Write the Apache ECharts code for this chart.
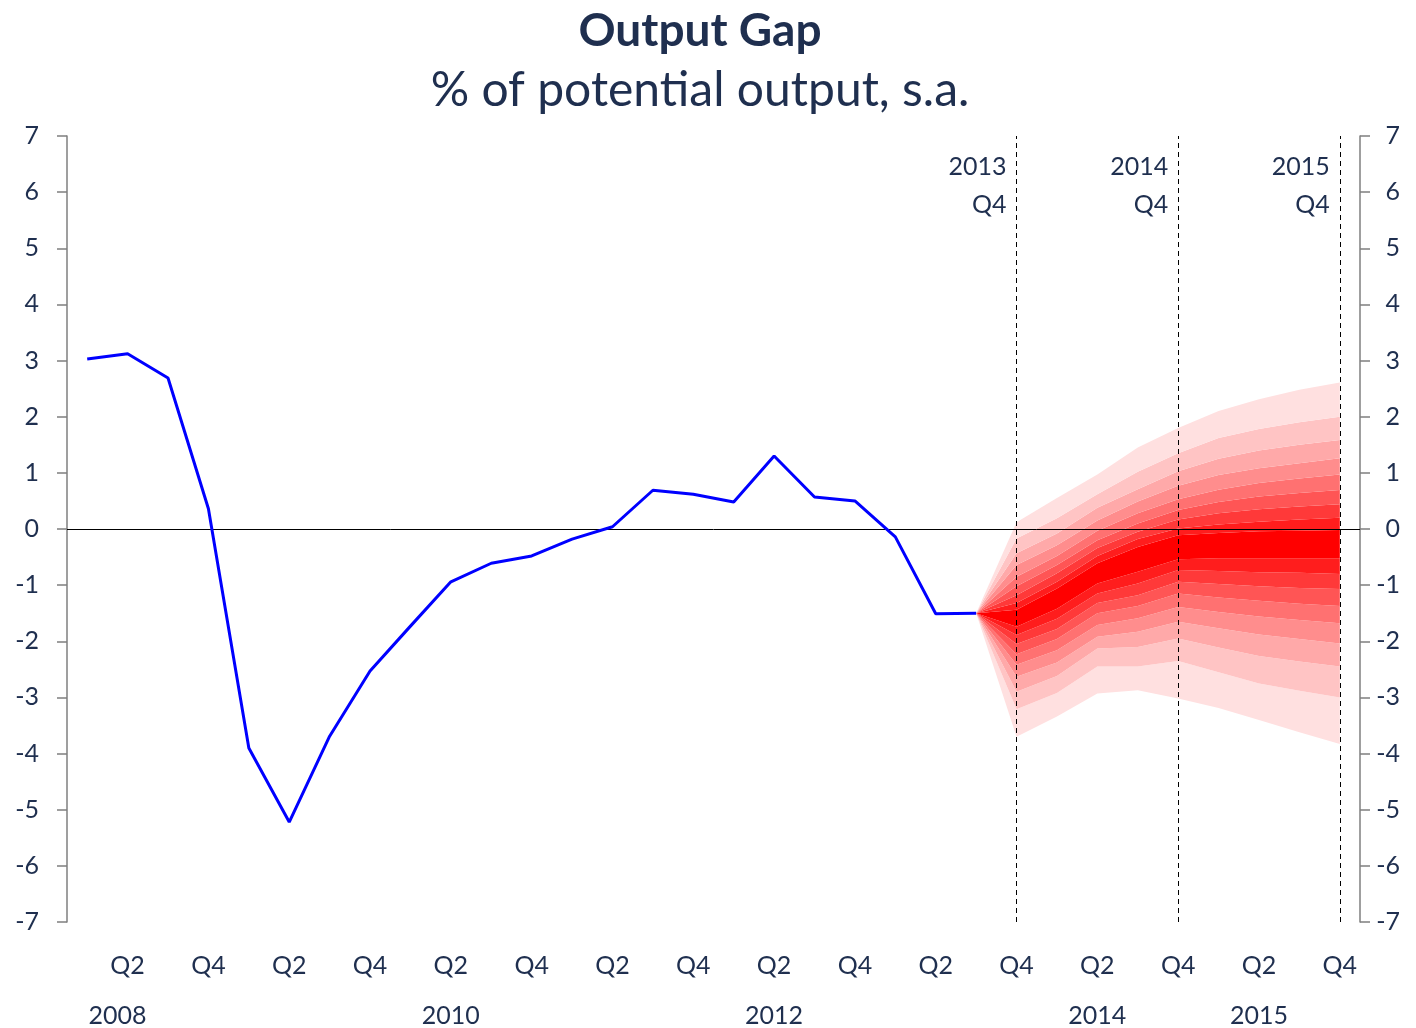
<!DOCTYPE html>
<html>
<head>
<meta charset="utf-8">
<title>Output Gap</title>
<script src="https://cdn.jsdelivr.net/npm/echarts@6/dist/echarts.min.js"></script>
<style>
  html, body { margin: 0; padding: 0; background: #fff; }
  #chart { width: 1416px; height: 1028px; }
</style>
</head>
<body>
<div id="chart"></div>
<script>
// quarters 2008Q1 .. 2015Q4
const quarters = [
  '2008Q1','2008Q2','2008Q3','2008Q4','2009Q1','2009Q2','2009Q3','2009Q4',
  '2010Q1','2010Q2','2010Q3','2010Q4','2011Q1','2011Q2','2011Q3','2011Q4',
  '2012Q1','2012Q2','2012Q3','2012Q4','2013Q1','2013Q2','2013Q3','2013Q4',
  '2014Q1','2014Q2','2014Q3','2014Q4','2015Q1','2015Q2','2015Q3','2015Q4'
]
// outturn, 2008Q1 .. 2013Q3
const outputGap = [
  3.03, 3.12, 2.69, 0.36, -3.90, -5.22, -3.69, -2.53,
  -1.73, -0.94, -0.61, -0.48, -0.18, 0.04, 0.69, 0.62,
  0.48, 1.30, 0.57, 0.50, -0.14, -1.51, -1.50
]
// fan chart boundaries, 2013Q3 .. 2015Q4 (bottom to top)
const fanStart = 22
const fanL8 = [-1.5, -3.70, -3.34, -2.93, -2.87, -3.02, -3.19, -3.40, -3.62, -3.83]
const fanL7 = [-1.5, -3.21, -2.92, -2.45, -2.45, -2.35, -2.55, -2.75, -2.88, -3.00]
const fanL6 = [-1.5, -2.90, -2.62, -2.13, -2.10, -1.95, -2.11, -2.26, -2.36, -2.45]
const fanL5 = [-1.5, -2.63, -2.38, -1.92, -1.83, -1.65, -1.77, -1.88, -1.96, -2.04]
const fanL4 = [-1.5, -2.42, -2.16, -1.71, -1.59, -1.39, -1.48, -1.56, -1.62, -1.68]
const fanL3 = [-1.5, -2.23, -1.96, -1.50, -1.37, -1.15, -1.22, -1.28, -1.33, -1.37]
const fanL2 = [-1.5, -2.05, -1.78, -1.32, -1.18, -0.94, -0.98, -1.02, -1.05, -1.07]
const fanL1 = [-1.5, -1.89, -1.60, -1.15, -0.97, -0.73, -0.75, -0.77, -0.78, -0.80]
const fanCLo = [-1.5, -1.74, -1.42, -0.97, -0.76, -0.54, -0.52, -0.52, -0.52, -0.52]
const fanCHi = [-1.5, -1.44, -1.06, -0.61, -0.32, -0.11, -0.07, -0.04, -0.03, -0.02]
const fanU1 = [-1.5, -1.32, -0.94, -0.48, -0.18, 0.01, 0.08, 0.13, 0.17, 0.20]
const fanU2 = [-1.5, -1.18, -0.79, -0.34, -0.05, 0.17, 0.28, 0.35, 0.40, 0.44]
const fanU3 = [-1.5, -1.02, -0.64, -0.20, 0.10, 0.34, 0.48, 0.58, 0.64, 0.695]
const fanU4 = [-1.5, -0.85, -0.48, -0.03, 0.28, 0.53, 0.70, 0.82, 0.90, 0.97]
const fanU5 = [-1.5, -0.64, -0.29, 0.15, 0.49, 0.77, 0.96, 1.08, 1.17, 1.26]
const fanU6 = [-1.5, -0.43, -0.08, 0.38, 0.71, 1.03, 1.25, 1.40, 1.50, 1.585]
const fanU7 = [-1.5, -0.17, 0.19, 0.62, 1.02, 1.35, 1.62, 1.78, 1.90, 2.00]
const fanU8 = [-1.5, 0.12, 0.55, 0.97, 1.45, 1.80, 2.10, 2.31, 2.48, 2.61]
// shades, outermost band first
const fanColors = ['#ffe0e0', '#ffc4c4', '#ffa9a9', '#ff8d8d', '#ff7171', '#ff5555', '#ff3939', '#ff1d1d', '#ff0000']

// y axis ticks
const yTicks = [-7, -6, -5, -4, -3, -2, -1, 0, 1, 2, 3, 4, 5, 6, 7]
// year labels under the quarters
const yearIdx = [1, 9, 17, 25, 29]
const yearText = ['2008', '2010', '2012', '2014', '2015']
// dashed forecast markers
const markerIdx = [23, 27, 31]
const markerText = ['2013\nQ4', '2014\nQ4', '2015\nQ4']

const textColor = '#1f2f4f'
const fontFamily = 'Lato, "Open Sans", sans-serif'

const pad = (arr, start) => {
  const out = []
  for (let i = 0; i < quarters.length; i++) {
    const v = arr[i - start]
    out.push(i >= start && v !== undefined ? v : '-')
  }
  return out
}

// stacked bands: base + differences between successive boundaries
const bounds = [fanL8, fanL7, fanL6, fanL5, fanL4, fanL3, fanL2, fanL1, fanCLo,
  fanCHi, fanU1, fanU2, fanU3, fanU4, fanU5, fanU6, fanU7, fanU8]
const bandShade = [0, 1, 2, 3, 4, 5, 6, 7, 8, 7, 6, 5, 4, 3, 2, 1, 0]

const series = []
series.push({
  name: 'fanBase',
  type: 'line',
  stack: 'fan',
  stackStrategy: 'all',
  data: pad(fanL8, fanStart),
  symbol: 'none',
  lineStyle: { opacity: 0 },
  silent: true,
  z: 1
})
for (let b = 0; b < bandShade.length; b++) {
  const lo = bounds[b], hi = bounds[b + 1]
  const diff = hi.map((v, i) => +(v - lo[i]).toFixed(3))
  series.push({
    name: 'band' + b,
    type: 'line',
    stack: 'fan',
    stackStrategy: 'all',
    data: pad(diff, fanStart),
    symbol: 'none',
    lineStyle: { width: 0, opacity: 0 },
    areaStyle: { color: fanColors[bandShade[b]], opacity: 1 },
    silent: true,
    z: 1
  })
}

series.push({
  name: 'Output gap',
  type: 'line',
  data: pad(outputGap, 0),
  symbol: 'none',
  lineStyle: { color: '#0000ff', width: 3 },
  z: 5
})

// zero line and dashed vertical markers
series.push({
  name: 'lines',
  type: 'line',
  data: [],
  z: 6,
  markLine: {
    silent: true,
    symbol: 'none',
    label: { show: false },
    data: [
      { yAxis: 0, lineStyle: { color: '#000', width: 1, type: 'solid' } }
    ].concat(markerIdx.map(i => ({
      xAxis: quarters[i],
      lineStyle: { color: '#000', width: 1, type: [5, 4] }
    })))
  }
})

series.push({
  name: 'markers',
  type: 'scatter',
  symbolSize: 0,
  silent: true,
  itemStyle: { opacity: 1 },
  data: markerIdx.map((i, k) => ({ value: [quarters[i], 6.11], label: { formatter: markerText[k], color: textColor } })),
  label: {
    show: true,
    position: 'left',
    distance: 10,
    align: 'right',
    opacity: 1,
    color: textColor,
    fontSize: 25,
    lineHeight: 38,
    fontFamily: fontFamily
  },
  z: 7
})

const chart = echarts.init(document.getElementById('chart'))
const yAxisBase = {
  type: 'value',
  min: -7,
  max: 7,
  interval: 1,
  splitLine: { show: false },
  axisLine: { show: true, lineStyle: { color: '#7f7f7f', width: 1.5 } },
  axisTick: { show: true, length: 10, lineStyle: { color: '#7f7f7f', width: 1.5 } }
}
chart.setOption({
  animation: false,
  backgroundColor: '#fff',
  title: {
    text: 'Output Gap',
    subtext: '% of potential output, s.a.',
    left: 695,
    textAlign: 'center',
    top: 3,
    itemGap: 13,
    textStyle: { color: textColor, fontSize: 46, fontWeight: 'bold', fontFamily: fontFamily },
    subtextStyle: { color: textColor, fontSize: 48, fontFamily: fontFamily }
  },
  grid: { left: 67, right: 56, top: 136, bottom: 106 },
  xAxis: [{
    type: 'category',
    data: quarters,
    axisLine: { show: false },
    axisTick: { show: false },
    axisLabel: {
      interval: (i) => i % 2 === 1,
      formatter: (v) => v.slice(4),
      margin: 31,
      color: textColor,
      fontSize: 25,
      fontFamily: fontFamily
    }
  }, {
    type: 'category',
    data: quarters,
    position: 'bottom',
    offset: 50,
    axisLine: { show: false },
    axisTick: { show: false },
    axisLabel: {
      interval: (i) => yearIdx.indexOf(i) >= 0,
      formatter: (v, i) => {
        const k = yearIdx.indexOf(i)
        if (k < 0) return ''
        return k === 0 ? '{shift|' + yearText[k] + '}' : yearText[k]
      },
      rich: { shift: { padding: [0, 20, 0, 0], fontSize: 25, color: textColor, fontFamily: fontFamily } },
      margin: 31,
      color: textColor,
      fontSize: 25,
      fontFamily: fontFamily
    }
  }],
  yAxis: [Object.assign({}, yAxisBase, {
    position: 'left',
    axisLabel: { margin: 28, color: textColor, fontSize: 25, fontFamily: fontFamily,
      formatter: (v) => yTicks.indexOf(v) >= 0 ? String(v) : '' }
  }), Object.assign({}, yAxisBase, {
    position: 'right',
    axisLabel: { margin: 40, align: 'right', color: textColor, fontSize: 25, fontFamily: fontFamily,
      formatter: (v) => yTicks.indexOf(v) >= 0 ? String(v) : '' }
  })],
  series: series
})
</script>
</body>
</html>
